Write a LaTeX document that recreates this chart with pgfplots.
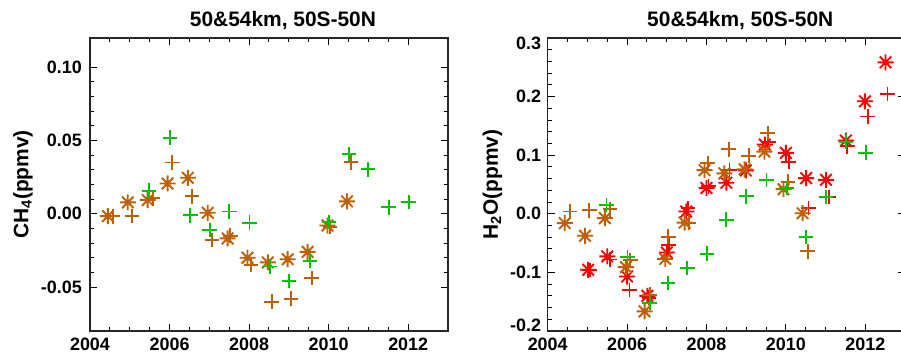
\documentclass[border=0pt]{standalone}
\usepackage{pgfplots}
\pgfplotsset{compat=1.18}
\usepackage{fontspec}
\setmainfont{Liberation Sans}
\definecolor{cbrown}{RGB}{190,95,10}
\definecolor{cgreen}{RGB}{0,195,0}
\definecolor{cred}{RGB}{255,0,0}
\pgfdeclareplotmark{ast}{%
 \pgfpathmoveto{\pgfqpoint{-\pgfplotmarksize}{0pt}}\pgfpathlineto{\pgfqpoint{\pgfplotmarksize}{0pt}}%
 \pgfpathmoveto{\pgfqpoint{0pt}{-\pgfplotmarksize}}\pgfpathlineto{\pgfqpoint{0pt}{\pgfplotmarksize}}%
 \pgfpathmoveto{\pgfqpoint{-.72\pgfplotmarksize}{-.72\pgfplotmarksize}}\pgfpathlineto{\pgfqpoint{.72\pgfplotmarksize}{.72\pgfplotmarksize}}%
 \pgfpathmoveto{\pgfqpoint{-.72\pgfplotmarksize}{.72\pgfplotmarksize}}\pgfpathlineto{\pgfqpoint{.72\pgfplotmarksize}{-.72\pgfplotmarksize}}%
 \pgfusepathqstroke}
\pgfplotsset{
 myax/.style={
  scale only axis, height=293bp,
  xmin=2004, xmax=2013,
  xtick={2004,2006,2008,2010,2012},
  xticklabels={2004,2006,2008,2010,2012},
  minor x tick num=3, minor y tick num=4,
  tick align=inside,
  major tick length=7bp, minor tick length=4bp,
  every tick/.style={black, line width=1bp},
  axis line style={line width=1.2bp, black!85},
  tick label style={font=\fontsize{18}{20}\selectfont\bfseries, inner sep=0pt},
  xticklabel style={anchor=north, yshift=-6.5bp},
  label style={font=\fontsize{21}{24}\selectfont\bfseries},
  title style={font=\fontsize{21}{24}\selectfont\bfseries, at={(axis description cs:0.539,1)}, anchor=base, yshift=6bp},
  clip=false,
 },
 ast/.style={only marks, mark=ast, mark size=8bp, line width=1.9bp},
 pls/.style={only marks, mark=+, mark size=7.3bp, line width=1.9bp},
}
\begin{document}
\begin{tikzpicture}
\begin{axis}[myax, at={(90bp,23bp)}, anchor=south west, width=358bp,
  ymin=-0.08, ymax=0.12,
  ytick={-0.05,0,0.05,0.1}, yticklabels={-0.05,0.00,0.05,0.10},
  yticklabel style={anchor=east, xshift=-8bp},
  title={50\&54km, 50S-50N},
  ylabel={CH\textsubscript{4}(ppmv)},
  ylabel style={at={(axis description cs:-0.187,0.5)}, anchor=center, rotate=0},
]
\addplot[ast, color=cbrown] table {
2004.45 -0.0016
2004.95 0.0078
2005.45 0.0094
2005.95 0.0207
2006.46 0.0246
2006.96 0.0007
2007.46 -0.0168
2007.96 -0.0300
2008.47 -0.0332
2008.97 -0.0310
2009.47 -0.0260
2009.97 -0.0080
2010.46 0.0085
};
\addplot[pls, color=cbrown] table {
2004.57 -0.0018
2005.06 -0.0016
2005.58 0.0106
2006.07 0.0350
2006.56 0.0120
2007.07 -0.0180
2007.53 -0.0150
2008.05 -0.0350
2008.57 -0.0600
2009.05 -0.0580
2009.57 -0.0437
2010.03 -0.0089
2010.56 0.0352
};
\addplot[pls, color=cgreen] table {
2005.48 0.0157
2006.01 0.0520
2006.52 -0.0010
2007.01 -0.0110
2007.50 0.0016
2008.01 -0.0060
2008.52 -0.0360
2009.00 -0.0460
2009.53 -0.0320
2010.01 -0.0055
2010.51 0.0407
2010.99 0.0303
2011.51 0.0044
2012.01 0.0080
};
\end{axis}
\begin{axis}[myax, at={(547.7bp,23bp)}, anchor=south west, width=357.3bp,
  ymin=-0.2, ymax=0.3,
  ytick={-0.2,-0.1,0,0.1,0.2,0.3},
  yticklabels={\raisebox{6bp}[\height][\depth]{-0.2},-0.1,0.0,0.1,0.2,\raisebox{-5bp}[\height][\depth]{0.3}},
  yticklabel style={anchor=east, xshift=-6.5bp},
  title={50\&54km, 50S-50N},
  ylabel={H\textsubscript{2}O(ppmv)},
  ylabel style={at={(axis description cs:-0.1545,0.5)}, anchor=center},
]
\addplot[ast, color=cred] table {
2005.02 -0.0955
2005.50 -0.0727
2006.00 -0.1070
2006.51 -0.1400
2007.00 -0.0660
2007.49 0.0040
2008.00 0.0440
2008.50 0.0530
2008.99 0.0740
2009.47 0.1180
2010.00 0.1040
2010.51 0.0608
2011.01 0.0580
2011.51 0.1250
2011.99 0.1920
2012.51 0.2585
};
\addplot[pls, color=cred] table {
2005.06 -0.0960
2005.56 -0.0780
2006.06 -0.1300
2006.55 -0.1430
2007.05 -0.0530
2007.53 0.0095
2008.05 0.0470
2008.58 0.0750
2009.07 0.0990
2009.56 0.1220
2010.07 0.0890
2010.57 0.0097
2011.09 0.0284
2011.55 0.1150
2012.06 0.1660
2012.56 0.2045
};
\addplot[ast, color=cbrown] table {
2004.43 -0.0160
2004.94 -0.0375
2005.44 -0.0074
2005.97 -0.0910
2006.44 -0.1665
2006.96 -0.0770
2007.45 -0.0150
2007.95 0.0745
2008.45 0.0690
2008.96 0.0760
2009.46 0.1060
2009.94 0.0420
2010.42 0.0010
};
\addplot[pls, color=cbrown] table {
2004.56 0.0040
2005.05 0.0060
2005.57 0.0075
2006.08 -0.0790
2006.57 -0.1380
2007.04 -0.0390
2007.55 -0.0150
2008.03 0.0860
2008.56 0.1100
2009.06 0.0990
2009.54 0.1380
2010.05 0.0550
2010.55 -0.0640
};
\addplot[pls, color=cgreen] table {
2005.48 0.0153
2006.01 -0.0740
2006.57 -0.1520
2007.03 -0.1180
2007.52 -0.0926
2008.01 -0.0680
2008.50 -0.0102
2009.00 0.0300
2009.51 0.0580
2010.02 0.0440
2010.51 -0.0397
2011.01 0.0284
2011.51 0.1230
2012.01 0.1045
};
\end{axis}
\pgfresetboundingbox
\useasboundingbox (0,0) rectangle (901bp,354bp);
\end{tikzpicture}
\end{document}
